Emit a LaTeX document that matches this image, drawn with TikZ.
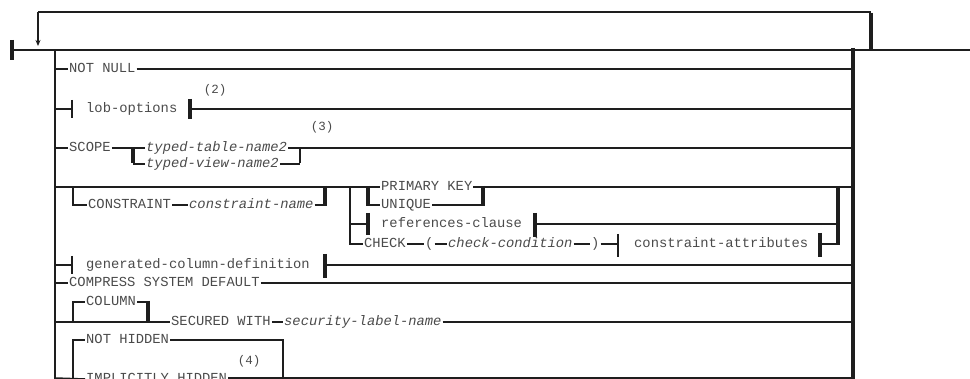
\documentclass[tikz,border=0pt]{standalone}
\usepackage{fontspec}
\setmonofont{Liberation Mono}
\usetikzlibrary{arrows.meta}
\definecolor{ink}{HTML}{1E1E1E}
\definecolor{txt}{HTML}{4A4A4A}
\tikzset{
  ln/.style={draw=ink, line width=1.5pt},
  thinbar/.style={draw=ink, line width=2pt},
  bar/.style={draw=ink, line width=3.5pt},
  kw/.style={anchor=west, inner xsep=1pt, inner ysep=0pt, text height=8pt, text depth=0pt,
             font=\ttfamily\fontsize{13.8}{14}\selectfont, text=txt},
  var/.style={kw, font=\ttfamily\itshape\fontsize{13.8}{14}\selectfont},
  note/.style={kw, anchor=center, font=\ttfamily\fontsize{12.5}{13}\selectfont}
}
\begin{document}
\begin{tikzpicture}[x=1pt, y=-1pt]
\useasboundingbox (0,0) rectangle (970,379);
\clip (0,0) rectangle (970,379);
% rails and main line
\coordinate (start) at (12,50);
\coordinate (end) at (970,50);
\coordinate (L) at (55,50);
\coordinate (R) at (853,50);
\coordinate (loopL) at (38,12);
\coordinate (loopR) at (871,12);
\coordinate (loopTip) at (38,46);
\coordinate (loopJoin) at (871,51);
\draw[bar] (12,40) -- (12,60);
\draw[ln] (start) -- (end);
\draw[ln] (loopR) -- (loopL);
\draw[ln, -{Stealth[length=6pt, width=5pt]}] (loopL) -- (loopTip);
\draw[bar] ([yshift=-1pt]loopR) -- (loopJoin);
\draw[ln] (L) -- (55,380);
\draw[bar] (853,48) -- (853,380);

% NOT NULL
\node[kw] (notnull) at (68,69) {NOT NULL};
\draw[ln] (notnull.west -| L) -- (notnull.west);
\draw[ln] (notnull.east) -- (notnull.east -| R);

% lob-options
\node[kw] (lob) at (85,109) {lob-options};
\node[note] (n2) at (215,90) {(2)};
\coordinate (lobA) at (72,109);
\coordinate (lobB) at (190,109);
\draw[ln] (lob.west -| L) -- (lobA);
\draw[thinbar] (72,100) -- (72,118);
\draw[bar] (190,99) -- (190,119);
\draw[ln] (lobB) -- (lobB -| R);

% SCOPE
\node[kw] (scope) at (68,148) {SCOPE};
\node[var] (ttn) at (145,148) {typed-table-name2};
\node[var] (tvn) at (145,164) {typed-view-name2};
\node[note] (n3) at (322,127) {(3)};
\coordinate (scA) at (133,148);
\coordinate (scB) at (133,164);
\coordinate (scC) at (300,148);
\coordinate (scD) at (300,164);
\draw[ln] (scope.west -| L) -- (scope.west);
\draw[ln] (scope.east) -- (scA);
\draw[bar] ([yshift=-1pt]scA) -- ([yshift=1pt]scB);
\draw[ln] (scA) -- (ttn.west);
\draw[ln] (scB) -- (tvn.west);
\draw[ln] (ttn.east) -- (scC);
\draw[ln] (tvn.east) -- (scD);
\draw[thinbar] ([yshift=-1pt]scC) -- ([yshift=1pt]scD);
\draw[ln] (scC) -- (scC -| R);

% CONSTRAINT row
\node[kw] (cons) at (87,205) {CONSTRAINT};
\node[var] (cname) at (188,205) {constraint-name};
\node[kw] (pk) at (380,187) {PRIMARY KEY};
\node[kw] (uniq) at (380,205) {UNIQUE};
\node[kw] (refs) at (380,224) {references-clause};
\node[kw] (check) at (363,244) {CHECK};
\node[kw] (lp) at (424,244) {(};
\node[var] (cc) at (447,244) {check-condition};
\node[kw] (rp) at (590,244) {)};
\node[kw] (cattr) at (633,244) {constraint-attributes};
\coordinate (cA) at (73,187);
\coordinate (cB) at (73,205);
\coordinate (cC) at (325,205);
\coordinate (chA) at (350,187);
\coordinate (chB) at (350,224);
\coordinate (chC) at (350,244);
\coordinate (pkA) at (368,187);
\coordinate (pkB) at (368,205);
\coordinate (pkC) at (483,205);
\coordinate (rfA) at (368,224);
\coordinate (rfB) at (535,224);
\coordinate (ckA) at (618,244);
\coordinate (ckB) at (820,244);
\coordinate (jA) at (838,187);
\coordinate (jB) at (838,224);
\coordinate (jC) at (838,244);
\draw[ln] (cA -| L) -- (pk.west);
\draw[ln] (cA) -- (cB) -- (cons.west);
\draw[ln] (cons.east) -- (cname.west);
\draw[ln] (cname.east) -- (cC);
\draw[bar] (325,186) -- (325,206);
\draw[ln] (chA) -- (chC) -- (check.west);
\draw[bar] (368,186) -- (368,206);
\draw[ln] (pkB) -- (uniq.west);
\draw[ln] (uniq.east) -- (pkC);
\draw[bar] (483,186) -- (483,206);
\draw[ln] (pk.east) -- (pk.east -| R);
\draw[ln] (chB) -- (rfA);
\draw[bar] (368,213) -- (368,235);
\draw[bar] (535,213) -- (535,237);
\draw[ln] (rfB) -- (jB);
\draw[ln] (check.east) -- (lp.west);
\draw[ln] (lp.east) -- (cc.west);
\draw[ln] (cc.east) -- (rp.west);
\draw[ln] (rp.east) -- (ckA);
\draw[thinbar] (618,234) -- (618,257);
\draw[bar] (820,233) -- (820,257);
\draw[ln] (ckB) -- (jC);
\draw[bar] (838,186) -- (838,245.5);

% generated-column-definition
\node[kw] (gen) at (85,265) {generated-column-definition};
\coordinate (gA) at (72,265);
\coordinate (gB) at (325,265);
\draw[ln] (gA -| L) -- (gA);
\draw[thinbar] (72,256) -- (72,274);
\draw[bar] (325,254) -- (325,278);
\draw[ln] (gB) -- (gB -| R);

% COMPRESS SYSTEM DEFAULT
\node[kw] (comp) at (68,283) {COMPRESS SYSTEM DEFAULT};
\draw[ln] (comp.west -| L) -- (comp.west);
\draw[ln] (comp.east) -- (comp.east -| R);

% COLUMN / SECURED WITH
\node[kw] (col) at (85,302) {COLUMN};
\node[kw] (sec) at (170,322) {SECURED WITH};
\node[var] (sln) at (283,322) {security-label-name};
\coordinate (coA) at (73,322);
\coordinate (coB) at (73,302);
\coordinate (coC) at (148,302);
\draw[ln] (coA -| L) -- (sec.west);
\draw[ln] (coA) -- (coB) -- (col.west);
\draw[ln] (col.east) -- (coC);
\draw[bar] (148,301) -- (148,323);
\draw[ln] (sec.east) -- (sln.west);
\draw[ln] (sln.east) -- (sln.east -| R);

% NOT HIDDEN / IMPLICITLY HIDDEN
\node[kw] (nh) at (85,340) {NOT HIDDEN};
\node[note] (n4) at (249,361) {(4)};
\node[kw] (ih) at (85,379) {IMPLICITLY HIDDEN};
\coordinate (hA) at (73,380);
\coordinate (hB) at (73,340);
\coordinate (hC) at (283,340);
\coordinate (hD) at (283,380);
\draw[ln] (hA) -- (hB) -- (nh.west);
\draw[ln] (nh.east) -- (hC) -- (hD);
\draw[ln] (55,378) -- (ih.west);
\draw[ln] (ih.east |- 0,378) -- (853,378);
\end{tikzpicture}
\end{document}
